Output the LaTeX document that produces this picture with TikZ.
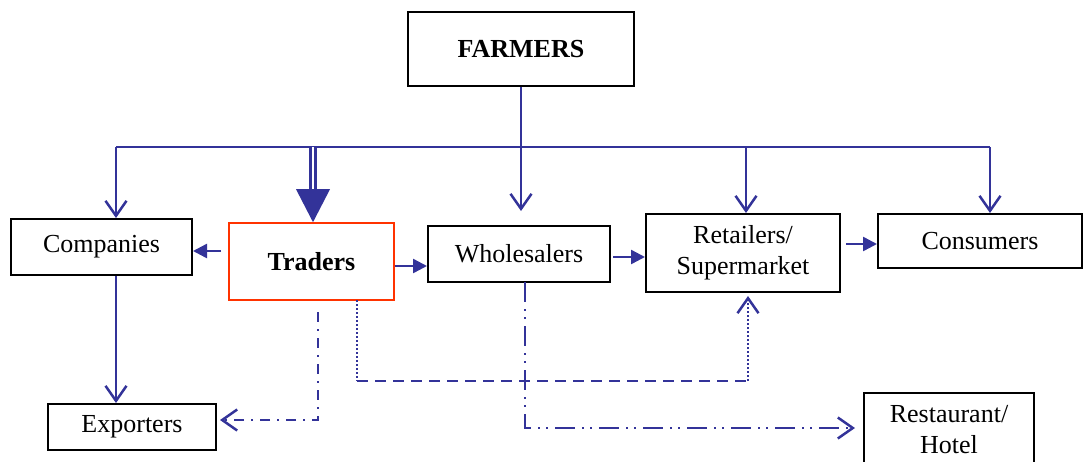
\documentclass[tikz,border=0pt]{standalone}
\usepackage{fontspec}
\setmainfont{Liberation Serif}
\usetikzlibrary{arrows.meta,calc}
\definecolor{fb}{RGB}{51,51,153}
\definecolor{tred}{RGB}{255,51,0}
\begin{document}
\begin{tikzpicture}[x=1pt,y=-1pt,
  box/.style={draw=black,line width=2pt,inner sep=0pt,align=center,font=\fontsize{26}{31}\selectfont},
  bl/.style={draw=fb,line width=2.5pt},
  tri/.style={-{Triangle[length=14pt,width=14pt]}},
  openarr/.style={-{Straight Barb[length=15pt,width=21pt,line width=2.5pt]}},
  dashdotstyle/.style={dash pattern=on 10pt off 7pt on 2pt off 7pt},
  dashdotdotstyle/.style={dash pattern=on 20pt off 7pt on 2pt off 6pt on 2pt off 7pt},
  dashstyle/.style={dash pattern=on 11pt off 7pt},
  dotstyle/.style={dash pattern=on 2pt off 2pt}]
\useasboundingbox (0,0) rectangle (1085,461);

% boxes
\node[box,minimum width=226pt,minimum height=74pt,font=\fontsize{26}{31}\selectfont\bfseries] (farmers) at (521,49) {FARMERS};
\node[box,minimum width=181pt,minimum height=56pt] (companies) at (101.5,247) {Companies};
\node[box,draw=tred,line width=1.6pt,minimum width=165pt,minimum height=77pt,font=\fontsize{26}{31}\selectfont\bfseries] (traders) at (311.5,261.5) {Traders};
\node[box,minimum width=182pt,minimum height=56pt] (wholesalers) at (519,254) {Wholesalers};
\node[box,minimum width=194pt,minimum height=78pt] (retailers) at (743,253) {Retailers/\\Supermarket};
\node[box,minimum width=204pt,minimum height=54pt] (consumers) at (980,241) {Consumers};
\node[box,minimum width=168pt,minimum height=46pt] (exporters) at (132,427) {Exporters};
\node[box,minimum width=170pt,minimum height=74pt,anchor=north] (restaurant) at (949,392) {Restaurant/\\Hotel};

% distribution bus from farmers
\coordinate (bus) at (521,147);
\coordinate (busL) at (116,147);
\coordinate (busR) at (990,147);
\coordinate (busT) at (313,147);
\coordinate (busS) at (746,147);
\draw[bl] (farmers.south) -- (bus);
\draw[bl] (busL) -- (busR);
\draw[bl,openarr] (busL) -- (busL |- companies.north);
\draw[bl,openarr,shorten >=14pt] (bus) -- (bus |- wholesalers.north);
\draw[bl,openarr] (busS) -- (busS |- retailers.north);
\draw[bl,openarr] (busR) -- (busR |- consumers.north);

% thick arrow to traders
\draw[fb,line width=3pt,double=white,double distance=2pt] (busT) -- ($(traders.north -| busT)+(0,-32)$);
\fill[fb] ($(traders.north -| busT)+(-17,-33)$) -- ($(traders.north -| busT)+(17,-33)$) -- (traders.north -| busT) -- cycle;

% horizontal flows
\draw[bl,tri] ($(traders.west)+(-7,-10.5)$) -- ($(companies.east)+(0,4)$);
\draw[bl,tri] ($(traders.east)+(0,4.5)$) -- ($(wholesalers.west)+(0,12)$);
\draw[bl,tri] ($(wholesalers.east)+(2,3)$) -- ($(retailers.west)+(0,4)$);
\draw[bl,tri] ($(retailers.east)+(5,-9)$) -- ($(consumers.west)+(0,3)$);

% companies to exporters
\draw[bl,openarr] (companies.south -| busL) -- (exporters.north -| busL);

% traders to exporters (dash dot)
\coordinate (d1) at (318,312);
\draw[bl,dashdotstyle,openarr] (d1) |- ($(exporters.east)+(3,-7)$);

% traders to retailers (dotted / dashed / dotted)
\coordinate (p1) at (357,300);
\coordinate (p2) at (357,381);
\coordinate (p3) at (748,381);
\draw[bl,dotstyle] (p1) -- (p2);
\draw[bl,dashstyle] (p2) -- (p3);
\draw[bl,dotstyle,openarr] (p3) -- ($(retailers.south -| p3)+(0,3)$);

% wholesalers to restaurant (dash dot dot)
\coordinate (w1) at (525,282);
\draw[bl,dashdotdotstyle,openarr] (w1) |- ($(restaurant.west)+(-8,-2)$);
\end{tikzpicture}
\end{document}
